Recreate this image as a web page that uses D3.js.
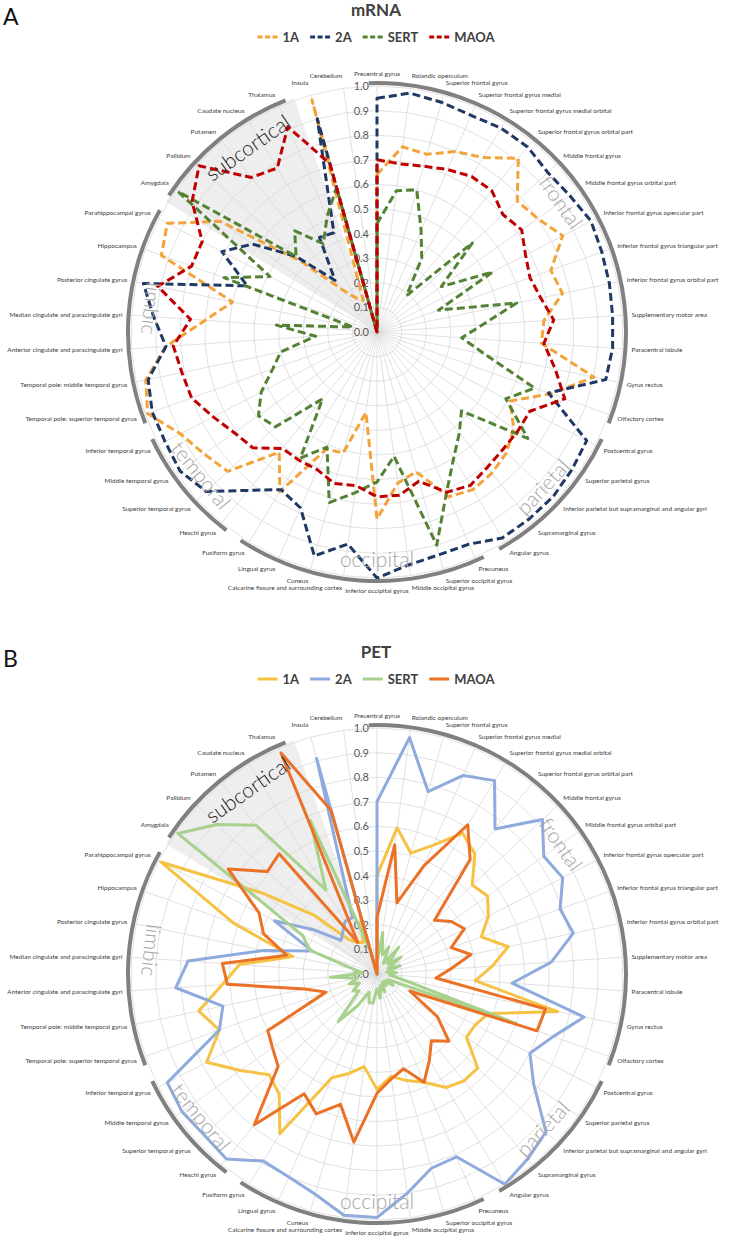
<!DOCTYPE html>
<html>
<head>
<meta charset="utf-8">
<script src="https://cdn.jsdelivr.net/npm/d3@7"></script>
<style>
body { margin: 0; background: #fff; }
svg { display: block; }
text { font-family: Lato, "Open Sans", sans-serif; }
</style>
</head>
<body>
<svg id="chart" width="729" height="1237"></svg>
<script>
var regions = ["Precentral gyrus", "Rolandic operculum", "Superior frontal gyrus", "Superior frontal gyrus  medial",
  "Superior frontal gyrus  medial orbital", "Superior frontal gyrus  orbital part", "Middle frontal gyrus",
  "Middle frontal gyrus  orbital part", "Inferior frontal gyrus  opercular part", "Inferior frontal gyrus  triangular part",
  "Inferior frontal gyrus  orbital part", "Supplementary motor area", "Paracentral lobule", "Gyrus rectus",
  "Olfactory cortex", "Postcentral gyrus", "Superior parietal gyrus",
  "Inferior parietal  but supramarginal and angular gyri", "Supramarginal gyrus", "Angular gyrus", "Precuneus",
  "Superior occipital gyrus", "Middle occipital gyrus", "Inferior occipital gyrus",
  "Calcarine fissure and surrounding cortex", "Cuneus", "Lingual gyrus", "Fusiform gyrus", "Heschl gyrus",
  "Superior temporal gyrus", "Middle temporal gyrus", "Inferior temporal gyrus",
  "Temporal pole: superior temporal gyrus", "Temporal pole: middle temporal gyrus",
  "Anterior cingulate and paracingulate gyri", "Median cingulate and paracingulate gyri",
  "Posterior cingulate gyrus", "Hippocampus", "Parahippocampal gyrus", "Amygdala", "Pallidum", "Putamen",
  "Caudate nucleus", "Thalamus", "Insula", "Cerebellum"];

var seriesNames = ["1A", "2A", "SERT", "MAOA"];

// panel A - mRNA
var mrna1A = [0.64,0.76,0.75,0.80,0.83,0.91,0.78,0.80,0.85,0.75, 0.77,0.68,0.67,0.90,0.75,0.61,0.68,0.72,0.74,0.75,
  0.73,0.59,0.62,0.76,0.33,0.51,0.52,0.76,0.63,0.83, 0.86,0.90,0.99,0.96,0.86,0.70,0.60,0.93,0.96,0.78,
  0.42,0.22,0.16,0.14,0.98,0];
var mrna2A = [0.95,0.98,0.97,0.96,0.97,0.97,0.95,0.96,0.98,0.97, 0.965,0.96,0.96,0.95,0.74,0.96,0.97,0.98,0.98,0.98,
  0.94,0.94,0.955,1.0,0.87,0.945,0.78,0.75,0.83,0.95, 0.98,0.97,0.97,0.95,0.86,0.91,0.97,0.56,0.71,0.62,
  0.45,0.27,0.45,0.44,0.90,0];
var mrnaSERT = [0.44,0.58,0.60,0.45,0.35,0.19,0.53,0.32,0.53,0.265, 0.58,0.43,0.345,0.45,0.68,0.59,0.75,0.47,0.53,0.60,
  0.71,0.90,0.51,0.61,0.66,0.72,0.51,0.60,0.35,0.565, 0.59,0.53,0.45,0.40,0.25,0.41,0.10,0.66,0.49,0.99,
  0.45,0.53,0.42,0.51,0.61,0];
var mrnaMAOA = [0.70,0.69,0.70,0.72,0.74,0.74,0.70,0.72,0.68,0.66, 0.68,0.72,0.68,0.74,0.81,0.70,0.70,0.70,0.71,0.73,
  0.71,0.63,0.67,0.67,0.63,0.64,0.61,0.61,0.61,0.69, 0.71,0.75,0.80,0.81,0.83,0.76,0.91,0.80,0.80,0.92,
  0.99,0.81,0.78,0.91,0.71,0];

// panel B - PET
var pet1A = [0.40,0.60,0.51,0.57,0.67,0.63,0.53,0.55,0.51,0.45, 0.545,0.47,0.40,0.75,0.48,0.45,0.445,0.56,0.56,0.54,
  0.48,0.45,0.42,0.47,0.38,0.42,0.46,0.76,0.63,0.60, 0.68,0.78,0.68,0.74,0.63,0.56,0.35,0.62,0.99,0.57,
  0.35,0.18,0.15,0.14,0.25,0];
var pet2A = [0.70,0.97,0.77,0.88,0.92,0.76,0.92,0.83,0.85,0.79, 0.815,0.71,0.55,0.86,0.76,0.70,0.78,0.94,0.97,1.0,
  0.81,0.82,0.90,0.99,0.99,0.93,0.90,0.89,0.97,0.96, 0.97,0.96,0.68,0.64,0.82,0.77,0.47,0.28,0.47,0.31,
  0.20,0.22,0.25,0.25,0.91,0];
var petSERT = [0.05,0.17,0.08,0.12,0.05,0.14,0.06,0.12,0.05,0.10, 0.04,0.08,0.05,0.10,0.60,0.05,0.08,0.04,0.06,0.04,
  0.08,0.05,0.10,0.06,0.12,0.12,0.08,0.15,0.25,0.10, 0.12,0.08,0.12,0.08,0.19,0.06,0.10,0.29,0.34,0.99,
  0.89,0.78,0.40,0.68,0.10,0];
var petMAOA = [0.23,0.53,0.30,0.48,0.71,0.60,0.32,0.37,0.40,0.32, 0.39,0.30,0.24,0.70,0.69,0.15,0.30,0.40,0.35,0.41,
  0.48,0.40,0.43,0.485,0.69,0.55,0.62,0.57,0.79,0.55, 0.52,0.50,0.22,0.30,0.61,0.63,0.375,0.49,0.54,0.74,
  0.61,0.63,0.15,0.98,0.69,0];

var ticks = [0, 0.1, 0.2, 0.3, 0.4, 0.5, 0.6, 0.7, 0.8, 0.9, 1.0];

var groupNames = ["frontal", "parietal", "occipital", "temporal", "limbic", "subcortical"];
var groupFirst = [0, 15, 20, 28, 32, 39];
var groupLast = [14, 19, 27, 31, 38, 43];

var svg = d3.select("#chart");
var R = 246;
var step = 2 * Math.PI / regions.length;
var rScale = d3.scaleLinear().domain([0, 1]).range([0, R]);
var deg = Math.PI / 180;

var radial = d3.lineRadial()
  .angle(function(d, i) { return i * step; })
  .radius(function(d) { return rScale(d); })
  .curve(d3.curveLinearClosed);

function drawPanel(top, letter, title, values, colors, dashed) {
  var cx = 377, cy = top + 332;
  var g = svg.append("g");

  g.append("text").attr("x", 3).attr("y", top + 25)
    .attr("font-size", 23).attr("fill", "#111").text(letter);

  g.append("text").attr("x", 376).attr("y", top + 16)
    .attr("text-anchor", "middle").attr("font-size", 17).attr("font-weight", 700)
    .attr("fill", "#404040").text(title);

  // legend
  var leg = g.append("g");
  var lx = 0;
  seriesNames.forEach(function(s, k) {
    leg.append("line").attr("x1", lx).attr("x2", lx + 20).attr("y1", 0).attr("y2", 0)
      .attr("stroke", colors[k]).attr("stroke-width", 3)
      .attr("stroke-dasharray", dashed ? "5,2.5" : null);
    var t = leg.append("text").attr("x", lx + 25).attr("y", 5)
      .attr("font-size", 13).attr("font-weight", 700).attr("fill", "#404040").text(s);
    lx += 25 + t.node().getComputedTextLength() + 11;
  });
  leg.attr("transform", "translate(" + (376 - (lx - 11) / 2) + "," + (top + 37) + ")");

  var c = g.append("g").attr("transform", "translate(" + cx + "," + cy + ")");

  // shaded subcortical sector
  c.append("path")
    .attr("d", d3.arc()({innerRadius: 0, outerRadius: R + 2,
      startAngle: (groupFirst[5] - 0.45) * step, endAngle: (groupLast[5] + 0.5) * step}))
    .attr("fill", "#eeeeee");

  // grid rings and spokes
  ticks.slice(1).forEach(function(t) {
    c.append("path").attr("d", radial(regions.map(function() { return t; })))
      .attr("fill", "none").attr("stroke", "#d9d9d9").attr("stroke-width", 0.8);
  });
  regions.forEach(function(d, i) {
    c.append("line").attr("x1", 0).attr("y1", 0)
      .attr("x2", rScale(1) * Math.sin(i * step)).attr("y2", -rScale(1) * Math.cos(i * step))
      .attr("stroke", "#d9d9d9").attr("stroke-width", 0.8);
  });

  // value axis labels
  ticks.forEach(function(t) {
    c.append("text").attr("x", -8).attr("y", -rScale(t) + 4)
      .attr("text-anchor", "end").attr("font-size", 11).attr("fill", "#595959")
      .text(d3.format(".1f")(t));
  });

  // series
  values.forEach(function(v, k) {
    c.append("path").attr("d", radial(v))
      .attr("fill", "none").attr("stroke", colors[k]).attr("stroke-width", 3)
      .attr("stroke-linejoin", "round")
      .attr("stroke-dasharray", dashed ? "8,4" : null);
  });

  // group arcs and their names
  var gap = 2 * deg;
  groupNames.forEach(function(name, j) {
    var a0 = (groupFirst[j] - 0.5) * step + gap;
    var a1 = (groupLast[j] + 0.5) * step - gap;
    c.append("path")
      .attr("d", d3.arc()({innerRadius: R + 1, outerRadius: R + 5, startAngle: a0, endAngle: a1}))
      .attr("fill", "#808080");
    var mid = (a0 + a1) / 2 / deg;
    if (name === "occipital") mid = 180;
    if (name === "subcortical") mid = 325;
    if (name === "limbic") mid = 276;
    var rr = 226;
    var px = rr * Math.sin(mid * deg), py = -rr * Math.cos(mid * deg);
    var flip = mid > 100 && mid < 300;
    var rot = flip ? mid - 180 : (mid > 180 ? mid - 360 : mid);
    c.append("text")
      .attr("transform", "translate(" + px + "," + py + ") rotate(" + rot + ")")
      .attr("text-anchor", "middle").attr("dominant-baseline", "central")
      .attr("font-size", 21).attr("font-weight", 300)
      .attr("fill", name === "subcortical" ? "#262626" : "#a6a6a6")
      .text(name);
  });

  // category labels
  regions.forEach(function(d, i) {
    var a = i * step, s = Math.sin(a), co = Math.cos(a);
    var rl = R + 9;
    c.append("text")
      .attr("x", rl * s).attr("y", -rl * co + 2.3 - co * 3.5)
      .attr("text-anchor", s > 0.02 ? "start" : (s < -0.02 ? "end" : "middle"))
      .attr("font-size", 6.5).attr("fill", "#404040")
      .text(d);
  });
}

drawPanel(0, "A", "mRNA", [mrna1A, mrna2A, mrnaSERT, mrnaMAOA],
  ["#F2A33A", "#203864", "#548235", "#C00000"], true);
drawPanel(642, "B", "PET", [pet1A, pet2A, petSERT, petMAOA],
  ["#F5C244", "#8FAADC", "#A9D18E", "#EB7126"], false);
</script>
</body>
</html>
